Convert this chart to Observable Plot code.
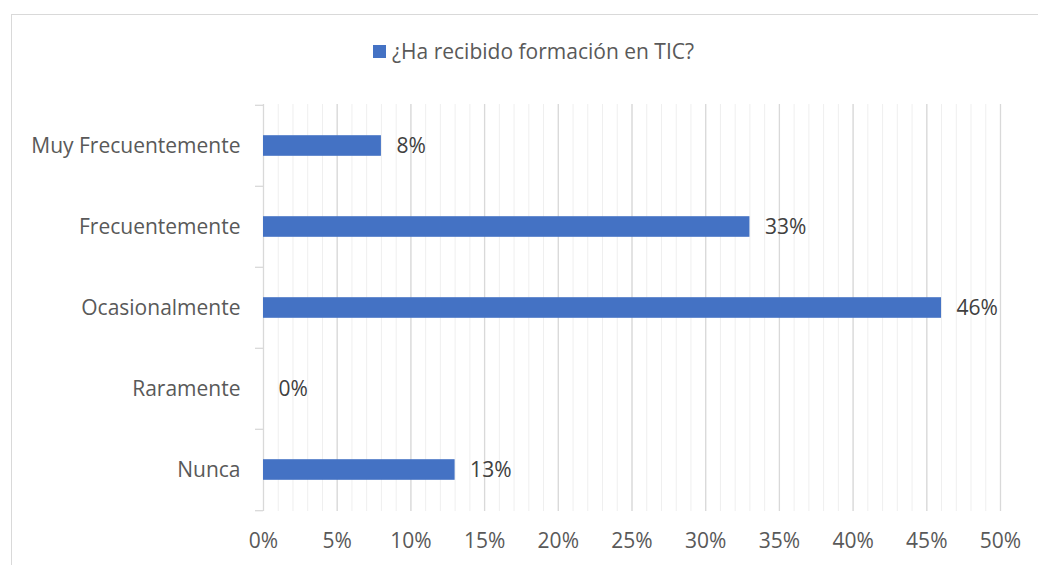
<!DOCTYPE html>
<html>
<head>
<meta charset="utf-8">
<script src="https://cdn.jsdelivr.net/npm/d3@7"></script>
<script src="https://cdn.jsdelivr.net/npm/@observablehq/plot@0.6"></script>
<style>
  html, body { margin: 0; padding: 0; background: #fff; }
  #wrap { position: relative; width: 1038px; height: 565px; overflow: hidden; font-family: "Open Sans", Lato, sans-serif; }
  #frame { position: absolute; left: 11px; top: 14px; width: 1100px; height: 700px; border: 1.5px solid #d9d9d9; box-sizing: border-box; }
  #legend { position: absolute; left: 373px; top: 38px; height: 26px; display: flex; align-items: center; font-size: 21px; color: #595959; }
  #legend .sw { width: 13px; height: 13px; background: #4472C4; margin-right: 6px; }
  #chart { position: absolute; left: 0; top: 0; }
</style>
</head>
<body>
<div id="wrap">
  <div id="frame"></div>
  <div id="chart"></div>
  <div id="legend"><span class="sw"></span><span id="legtxt"></span></div>
</div>
<script>
const seriesName = "¿Ha recibido formación en TIC?";
const categories = ["Muy Frecuentemente", "Frecuentemente", "Ocasionalmente", "Raramente", "Nunca"];
const values = [0.08, 0.33, 0.46, 0.00, 0.13];
const xTicks = [0, 0.05, 0.10, 0.15, 0.20, 0.25, 0.30, 0.35, 0.40, 0.45, 0.50];
const minorTicks = d3.range(0, 51).map(d => d / 100);

document.getElementById("legtxt").textContent = seriesName;

const data = categories.map((c, i) => ({category: c, value: values[i]}));

const W = 1038, H = 565, mT = 104, mB = 54, mL = 263, mR = 38;
const step = (H - mT - mB) / categories.length;
const barH = 21;
const inset = (step - barH) / 2;
const tickLen = 8 / ((W - mL - mR) / 0.5);

const boundaries = categories.map(c => ({category: c, dy: -step / 2}))
  .concat([{category: categories[categories.length - 1], dy: step / 2}]);

const chart = Plot.plot({
  width: W,
  height: H,
  marginTop: mT,
  marginBottom: mB,
  marginLeft: mL,
  marginRight: mR,
  style: {fontFamily: "'Open Sans', Lato, sans-serif", fontSize: "21px", color: "#595959", background: "transparent", overflow: "visible"},
  x: {domain: [0, 0.5], ticks: xTicks, tickFormat: d3.format(".0%"), tickSize: 0, tickPadding: 22, label: null},
  y: {domain: categories, padding: 0, tickSize: 0, tickPadding: 23, label: null},
  marks: [
    Plot.ruleX(minorTicks, {stroke: "#efefef", strokeWidth: 1}),
    Plot.ruleX(xTicks, {stroke: "#d9d9d9", strokeWidth: 1.3}),
    ...boundaries.map(b => Plot.ruleY([b], {y: "category", x1: -tickLen, x2: 0, dy: b.dy, stroke: "#d9d9d9", strokeWidth: 1.3})),
    Plot.barX(data, {y: "category", x: "value", fill: "#4472C4", insetTop: inset, insetBottom: inset}),
    Plot.text(data, {y: "category", x: "value", text: d => d3.format(".0%")(d.value), textAnchor: "start", dx: 15, fill: "#404040", fontSize: 21}),
    Plot.axisX({ticks: xTicks, tickFormat: d3.format(".0%"), tickSize: 0, tickPadding: 22, fill: "#595959"}),
    Plot.axisY({tickSize: 0, tickPadding: 23, fill: "#595959"})
  ]
});
document.getElementById("chart").appendChild(chart);
</script>
</body>
</html>
